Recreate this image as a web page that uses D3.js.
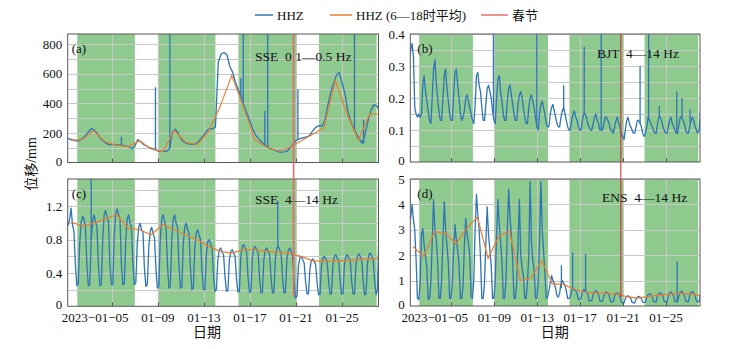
<!DOCTYPE html>
<html lang="zh">
<head>
<meta charset="UTF-8">
<title>HHZ 位移</title>
<script src="https://d3js.org/d3.v7.min.js"></script>
<style>
  html, body { margin: 0; padding: 0; background: #fff; }
  svg { display: block; }
  text { font-family: "Liberation Serif", "Times New Roman", "Noto Sans CJK SC", serif; fill: #111; }
  .grid line { stroke: #c8c8c8; stroke-width: 1; }
  .frame { fill: none; stroke: #595959; stroke-width: 1; }
  .hhz { fill: none; stroke: #2e75b6; stroke-width: 1.3; stroke-linejoin: round; }
  .avg { fill: none; stroke: #ed7d31; stroke-width: 1.2; }
  .spike { stroke: #2e75b6; stroke-width: 1.3; }
</style>
</head>
<body>
<svg width="729" height="349"></svg>

<script>
// ---- data ----
// weekdays shaded green (Mon 00:00 .. Sat 00:00)
const weekStarts = ["01-02 00:00", "01-09 00:00", "01-16 00:00", "01-23 00:00"];
const weekEnds   = ["01-07 00:00", "01-14 00:00", "01-21 00:00", "01-28 00:00"];
const springFestival = "01-20 19:00";
const tickDates = ["01-05", "01-09", "01-13", "01-17", "01-21", "01-25"];

// (a) SSE 0.1-0.5 Hz, every 6 h from 01-01 00:00
const aHHZ = [
  165,162,155,148, 145,150,165,185, 210,230,218,195, 165,145,130,122,
  122,120,120,118, 116,112,105,95,  110,155,140,122, 112,102,94,86,
  78,76,75,76,     90,200,225,200,  160,140,130,125, 122,125,140,165,
  185,215,230,228, 240,680,735,745, 730,650,610,540, 490,440,380,330,
  280,225,185,160, 140,120,105,94,  88,80,72,70,     72,78,100,125,
  148,160,165,170, 175,190,220,240, 250,245,280,380, 470,530,590,610,
  540,470,350,280, 235,195,160,130, 190,280,350,390, 385,350
];
// [time, value before, peak]
const aSpikes = [
  ["01-05 20:00", 118, 175], ["01-08 19:00", 86, 510], ["01-10 01:00", 95, 1000],
  ["01-16 05:00", 445, 570], ["01-16 10:00", 400, 1000], ["01-18 07:00", 118, 350],
  ["01-18 13:00", 104, 1000], ["01-21 04:00", 155, 495], ["01-26 02:00", 225, 1000],
  ["01-26 21:00", 130, 290]
];
// daily 6-18 h mean, 01-01 .. 01-28
const aAvg = [152,155,215,140,116,108,148,92,72,215,137,122,210,380,590,380,155,105,78,100,145,190,235,555,330,150,330,328];

// (b) BJT 4-14 Hz, every 3 h from 01-01 02:00
const bHHZ = [
  0.33,0.35,0.37,0.33,0.17,0.15,0.14,0.15,
  0.14,0.15,0.24,0.27,0.22,0.19,0.16,0.13,
  0.12,0.20,0.29,0.32,0.25,0.20,0.16,0.13,
  0.13,0.20,0.27,0.29,0.23,0.19,0.15,0.13,
  0.13,0.21,0.28,0.29,0.24,0.20,0.15,0.13,
  0.14,0.16,0.20,0.21,0.19,0.17,0.15,0.13,
  0.12,0.18,0.27,0.28,0.24,0.22,0.17,0.13,
  0.13,0.18,0.23,0.24,0.22,0.20,0.16,0.13,
  0.12,0.20,0.26,0.27,0.22,0.19,0.15,0.13,
  0.13,0.19,0.23,0.24,0.21,0.18,0.15,0.13,
  0.13,0.18,0.21,0.22,0.20,0.17,0.14,0.12,
  0.12,0.17,0.20,0.21,0.19,0.17,0.14,0.11,
  0.10,0.15,0.18,0.19,0.17,0.15,0.12,0.11,
  0.11,0.15,0.17,0.18,0.16,0.14,0.12,0.11,
  0.11,0.14,0.16,0.17,0.15,0.13,0.11,0.10,
  0.10,0.13,0.15,0.16,0.14,0.13,0.11,0.10,
  0.10,0.13,0.15,0.15,0.14,0.12,0.11,0.10,
  0.10,0.12,0.14,0.15,0.13,0.12,0.10,0.10,
  0.10,0.12,0.14,0.14,0.13,0.12,0.10,0.10,
  0.09,0.11,0.13,0.14,0.12,0.11,0.09,0.08,
  0.07,0.10,0.13,0.14,0.12,0.11,0.10,0.09,
  0.09,0.11,0.13,0.13,0.12,0.11,0.09,0.08,
  0.09,0.11,0.14,0.13,0.12,0.11,0.10,0.09,
  0.09,0.12,0.14,0.14,0.13,0.11,0.10,0.09,
  0.09,0.11,0.13,0.14,0.12,0.11,0.10,0.09,
  0.09,0.12,0.14,0.14,0.13,0.12,0.10,0.09,
  0.09,0.11,0.13,0.14,0.13,0.11,0.10,0.09,
  0.10,0.16
];
const bSpikes = [
  ["01-08 22:00", 0.15, 0.5], ["01-12 23:00", 0.11, 0.5], ["01-15 11:00", 0.16, 0.24],
  ["01-17 09:00", 0.15, 0.36], ["01-18 23:00", 0.10, 0.5], ["01-22 14:00", 0.12, 0.30],
  ["01-23 09:00", 0.13, 0.5], ["01-24 09:00", 0.14, 0.175], ["01-26 00:00", 0.09, 0.22],
  ["01-26 12:00", 0.14, 0.20], ["01-27 06:00", 0.12, 0.165]
];

// (c) SSE 4-14 Hz, every 3 h from 01-01 02:00
const cHHZ = [
  0.95,0.98,1.05,1.18,0.98,0.90,0.50,0.25,
  0.27,0.75,1.00,1.08,1.05,0.95,0.50,0.25,
  0.26,0.80,1.02,1.10,1.02,0.95,0.50,0.25,
  0.26,0.80,1.10,1.15,1.08,1.00,0.50,0.26,
  0.26,0.85,1.12,1.17,1.10,1.05,0.50,0.26,
  0.27,0.80,1.05,1.10,1.00,0.95,0.50,0.26,
  0.28,0.75,0.95,1.00,0.92,0.88,0.45,0.24,
  0.26,0.70,0.90,0.95,0.88,0.82,0.45,0.22,
  0.24,0.80,1.05,1.10,1.02,0.95,0.50,0.22,
  0.24,0.80,1.05,1.10,1.00,0.95,0.48,0.22,
  0.23,0.75,0.95,1.00,0.92,0.88,0.45,0.20,
  0.22,0.70,0.88,0.92,0.85,0.80,0.42,0.20,
  0.20,0.62,0.78,0.80,0.75,0.70,0.38,0.18,
  0.20,0.55,0.68,0.70,0.65,0.62,0.35,0.18,
  0.19,0.55,0.66,0.68,0.64,0.60,0.33,0.17,
  0.18,0.60,0.72,0.74,0.70,0.65,0.35,0.17,
  0.18,0.58,0.70,0.72,0.68,0.64,0.35,0.16,
  0.17,0.56,0.68,0.70,0.66,0.62,0.33,0.16,
  0.17,0.58,0.70,0.72,0.68,0.63,0.34,0.16,
  0.17,0.56,0.68,0.70,0.66,0.60,0.30,0.10,
  0.12,0.48,0.58,0.60,0.56,0.52,0.30,0.15,
  0.15,0.45,0.55,0.57,0.54,0.50,0.28,0.14,
  0.14,0.48,0.58,0.60,0.57,0.53,0.30,0.15,
  0.15,0.50,0.60,0.62,0.58,0.55,0.30,0.15,
  0.15,0.50,0.60,0.62,0.58,0.55,0.30,0.15,
  0.15,0.50,0.60,0.63,0.60,0.56,0.30,0.14,
  0.15,0.52,0.62,0.64,0.60,0.56,0.30,0.14,
  0.20,0.95
];
const cSpikes = [["01-03 05:00", 0.8, 1.7], ["01-19 10:00", 0.7, 1.27]];
const cAvg = [1.02,0.96,1.0,1.05,1.1,0.94,0.92,0.86,0.98,0.92,0.86,0.8,0.72,0.66,0.64,0.68,0.68,0.66,0.65,0.64,0.6,0.55,0.54,0.55,0.55,0.56,0.57,0.58];

// (d) ENS 4-14 Hz, every 3 h from 01-01 02:00
const dHHZ = [
  3.30,3.50,4.00,3.40,3.00,1.80,0.30,0.25,
  0.90,2.80,3.05,2.40,2.00,1.50,0.25,0.30,
  0.90,2.50,4.20,3.00,2.60,1.80,0.30,0.30,
  1.00,2.60,4.10,3.00,2.40,1.70,0.30,0.30,
  0.90,2.20,3.20,2.60,2.20,1.60,0.30,0.30,
  0.80,2.40,3.45,2.80,2.50,2.00,0.40,0.30,
  1.00,3.00,4.40,3.60,3.00,1.90,0.30,0.30,
  0.90,2.50,3.90,2.80,2.20,1.60,0.30,0.30,
  1.00,2.80,4.20,3.20,2.50,1.80,0.30,0.30,
  1.00,3.00,4.60,3.50,2.80,1.80,0.30,0.30,
  0.90,2.50,4.20,2.00,1.50,1.20,0.30,0.30,
  0.90,2.00,4.90,2.50,1.80,1.40,0.30,0.30,
  0.90,2.50,4.90,3.00,2.20,1.30,0.30,0.35,
  0.60,0.90,1.20,1.00,0.90,0.70,0.40,0.35,
  0.50,0.90,1.00,0.90,0.80,0.60,0.30,0.30,
  0.35,0.60,0.70,0.65,0.60,0.50,0.25,0.25,
  0.30,0.55,0.65,0.60,0.55,0.48,0.20,0.20,
  0.22,0.45,0.55,0.60,0.55,0.45,0.20,0.18,
  0.20,0.40,0.52,0.55,0.50,0.40,0.18,0.16,
  0.18,0.40,0.50,0.52,0.48,0.38,0.15,0.12,
  0.12,0.30,0.38,0.40,0.36,0.30,0.15,0.12,
  0.12,0.28,0.35,0.38,0.35,0.28,0.15,0.14,
  0.15,0.35,0.45,0.48,0.45,0.35,0.18,0.16,
  0.16,0.40,0.50,0.52,0.48,0.40,0.18,0.16,
  0.16,0.40,0.52,0.55,0.50,0.40,0.18,0.16,
  0.17,0.42,0.55,0.58,0.52,0.42,0.20,0.17,
  0.17,0.42,0.55,0.56,0.50,0.40,0.20,0.16,
  0.18,0.45
];
const dSpikes = [
  ["01-15 06:00", 0.7, 1.6], ["01-16 07:00", 0.6, 2.1],
  ["01-17 12:00", 0.55, 2.05], ["01-26 01:00", 0.2, 1.75]
];
const dAvg = [2.34,1.95,2.93,2.87,2.45,3.06,3.5,1.88,2.74,2.96,1.0,1.1,1.78,0.86,0.86,0.66,0.55,0.52,0.5,0.47,0.36,0.31,0.38,0.44,0.47,0.5,0.48,0.38];

// ---- helpers ----
const parseT = d3.timeParse("%Y-%m-%d %H:%M");
const T = s => parseT("2023-" + s);
const HOUR = 3600e3;
const series = (vals, start, stepH) => {
  const t0 = +T(start);
  return vals.map((v, i) => [new Date(t0 + i * stepH * HOUR), v]);
};
const daily = vals => vals.map((v, i) => [T("01-" + String(i + 1).padStart(2, "0") + " 10:00"), v]);
const dec1 = v => v === 0 ? "0" : d3.format(".1f")(v);

const svg = d3.select("svg");
const xDomain = [T("01-01 04:00"), T("01-28 04:00")];

const panels = [
  { key: "a", box: [67.7, 34, 378.5, 162.5], ymax: 870, grid: 100, ticks: [0, 200, 400, 600, 800], fmt: d3.format("d"),
    hhz: series(aHHZ, "01-01 00:00", 6), spikes: aSpikes, avg: daily(aAvg), tag: "(a)", title: "SSE  0.1—0.5 Hz", tx: 255, ty: 61 },
  { key: "b", box: [410.3, 34, 700, 162], ymax: 0.4, grid: 0.05, ticks: [0, 0.1, 0.2, 0.3, 0.4], fmt: dec1,
    hhz: series(bHHZ, "01-01 02:00", 3), spikes: bSpikes, avg: null, tag: "(b)", title: "BJT  4—14 Hz", tx: 597, ty: 58 },
  { key: "c", box: [67.7, 179, 378.5, 306.3], ymax: 1.53, grid: 0.2, ticks: [0, 0.4, 0.8, 1.2], fmt: dec1,
    hhz: series(cHHZ, "01-01 02:00", 3), spikes: cSpikes, avg: daily(cAvg), tag: "(c)", title: "SSE  4—14 Hz", tx: 255, ty: 204 },
  { key: "d", box: [410.3, 179, 700, 306], ymax: 5, grid: 1, ticks: [0, 1, 2, 3, 4, 5], fmt: d3.format("d"),
    hhz: series(dHHZ, "01-01 02:00", 3), spikes: dSpikes, avg: daily(dAvg), tag: "(d)", title: "ENS  4—14 Hz", tx: 602, ty: 202 }
];

panels.forEach(p => {
  const [x0, y0, x1, y1] = p.box;
  const x = d3.scaleTime().domain(xDomain).range([x0, x1]);
  const y = d3.scaleLinear().domain([0, p.ymax]).range([y1, y0]);
  p.x = x;

  svg.append("clipPath").attr("id", "clip-" + p.key)
    .append("rect").attr("x", x0).attr("y", y0).attr("width", x1 - x0).attr("height", y1 - y0);

  const g = svg.append("g");
  const inner = g.append("g").attr("clip-path", `url(#clip-${p.key})`);

  // weekday bands
  inner.selectAll("rect.band").data(weekStarts).join("rect")
    .attr("class", "band")
    .attr("x", (d) => x(T(d)))
    .attr("width", (d, i) => x(T(weekEnds[i])) - x(T(d)))
    .attr("y", y0).attr("height", y1 - y0)
    .attr("fill", "#8ec98e");

  // grid
  const grid = inner.append("g").attr("class", "grid");
  const nG = Math.round(p.ymax / p.grid);
  grid.selectAll("line.h").data(d3.range(1, nG + 1).map(i => i * p.grid)).join("line")
    .attr("x1", x0).attr("x2", x1)
    .attr("y1", d => Math.round(y(d)) + 0.5).attr("y2", d => Math.round(y(d)) + 0.5);
  grid.selectAll("line.v").data(tickDates).join("line")
    .attr("y1", y0).attr("y2", y1)
    .attr("x1", d => Math.round(x(T(d + " 00:00"))) + 0.5)
    .attr("x2", d => Math.round(x(T(d + " 00:00"))) + 0.5);

  // lines
  const line = d3.line().x(d => x(d[0])).y(d => y(d[1]));
  inner.append("path").attr("class", "hhz").attr("d", line(p.hhz));
  inner.selectAll("line.spike").data(p.spikes).join("line")
    .attr("class", "spike")
    .attr("x1", d => x(T(d[0]))).attr("x2", d => x(T(d[0])))
    .attr("y1", d => y(d[1])).attr("y2", d => y(d[2]));
  if (p.avg) inner.append("path").attr("class", "avg").attr("d", line(p.avg));

  // frame + ticks
  g.append("rect").attr("class", "frame")
    .attr("x", x0).attr("y", y0).attr("width", x1 - x0).attr("height", y1 - y0);
  g.selectAll("line.tk").data(tickDates).join("line")
    .attr("stroke", "#595959")
    .attr("x1", d => Math.round(x(T(d + " 00:00"))) + 0.5)
    .attr("x2", d => Math.round(x(T(d + " 00:00"))) + 0.5)
    .attr("y1", y1).attr("y2", y1 - 4);

  // y labels
  g.selectAll("text.yl").data(p.ticks).join("text")
    .attr("x", x0 - 5.5).attr("y", d => y(d) - (d === 0 ? 1.5 : 0))
    .attr("dy", "0.35em").attr("text-anchor", "end")
    .attr("font-size", 13)
    .text(p.fmt);

  g.append("text").attr("x", x0 + (p.key === "a" || p.key === "c" ? 4 : 7)).attr("y", y0 + 19)
    .attr("font-size", 13).text(p.tag);
  g.append("text").attr("x", p.tx).attr("y", p.ty)
    .attr("font-size", 13.5).style("white-space", "pre").text(p.title);

  // date labels under lower panels
  if (p.key === "c" || p.key === "d") {
    tickDates.forEach((d, i) => {
      const xx = x(T(d + " 00:00"));
      const lbl = g.append("text").attr("x", xx).attr("y", y1 + 16)
        .attr("text-anchor", "middle").attr("font-size", 13)
        .text(d.replace("-", "−"));
      if (i === 0) {
        const w = lbl.node().getComputedTextLength();
        g.append("text").attr("x", xx - w / 2).attr("y", y1 + 16)
          .attr("text-anchor", "end").attr("font-size", 13).text("2023−");
      }
    });
    g.append("text").attr("x", (x0 + x1) / 2 + (p.key === "c" ? -16 : -0.5)).attr("y", y1 + 31)
      .attr("text-anchor", "middle").attr("font-size", 14).text("日期");
  }
});

// spring festival marker through both rows
[[panels[0], "#e46a6a", 1.6], [panels[1], "#dd2020", 1]].forEach(([p, col, w]) => {
  const xx = p.x(T(springFestival));
  svg.append("line")
    .attr("x1", xx).attr("x2", xx).attr("y1", 34).attr("y2", 297)
    .attr("stroke", col).attr("stroke-width", w);
});

// y axis title
svg.append("text")
  .attr("transform", "translate(31,164) rotate(-90)")
  .attr("text-anchor", "middle").attr("dy", "0.35em")
  .attr("font-size", 14).text("位移/mm");

// legend
const legend = [
  { x: 255, w: 18, col: "#2e75b6", sw: 1.5, label: "HHZ" },
  { x: 330, w: 22, col: "#ed7d31", sw: 1.5, label: "HHZ (6—18时平均)" },
  { x: 481, w: 27, col: "#dd2020", sw: 1, label: "春节" }
];
const lg = svg.append("g");
legend.forEach(d => {
  lg.append("line").attr("x1", d.x).attr("x2", d.x + d.w).attr("y1", 15).attr("y2", 15)
    .attr("stroke", d.col).attr("stroke-width", d.sw);
  lg.append("text").attr("x", d.x + d.w + 4).attr("y", 15).attr("dy", "0.35em")
    .attr("font-size", 13).text(d.label);
});
</script>
</body>
</html>
